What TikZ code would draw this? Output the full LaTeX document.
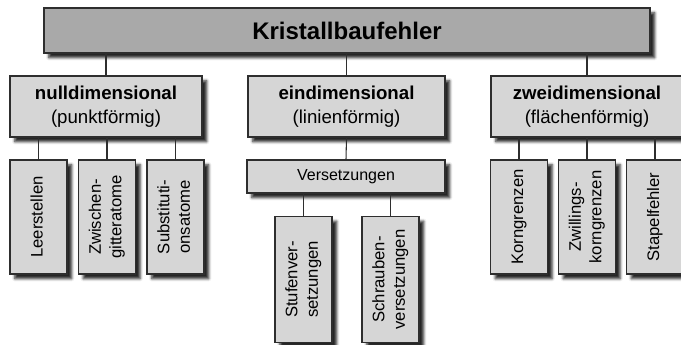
\documentclass[tikz,border=0pt]{standalone}
\usepackage{fontspec}
\setmainfont{Liberation Sans}
\usetikzlibrary{shadows.blur}
\definecolor{boxgray}{HTML}{D6D6D6}
\definecolor{topgray}{HTML}{A9A9A9}
\definecolor{edgegray}{HTML}{2E2E2E}
\newcommand{\vlabel}[1]{\rotatebox{90}{\begin{tabular}{@{}c@{}}#1\end{tabular}}}

\begin{document}
\begin{tikzpicture}[x=0.75pt,y=-0.75pt,
  box/.style={draw=edgegray, line width=0.8pt, fill=boxgray, inner sep=0pt,
    blur shadow={shadow xshift=3.5pt, shadow yshift=-3.5pt, shadow blur radius=2pt, shadow opacity=85}},
  mainbox/.style={box, fill=topgray, minimum width=454.5pt, minimum height=33.75pt, font=\fontsize{18}{22}\selectfont\bfseries},
  classbox/.style={box, minimum height=45.75pt, align=center, font=\fontsize{14}{18}\selectfont},
  leafbox/.style={box, minimum width=42.75pt, minimum height=85.5pt, font=\fontsize{12.5}{15.5}\selectfont},
  link/.style={draw=edgegray, line width=0.8pt}]

\useasboundingbox (0,0) rectangle (681,344);

\node[mainbox] (kbf) at (347,30.5) {Kristallbaufehler};

\node[classbox, minimum width=144pt] (null) at (106,106.5) {\textbf{nulldimensional}\\(punktförmig)};
\node[classbox, minimum width=147.75pt] (ein) at (346.5,106.5) {\textbf{eindimensional}\\(linienförmig)};
\node[classbox, minimum width=144pt] (zwei) at (587,106.5) {\textbf{zweidimensional}\\(flächenförmig)};

\node[leafbox] (leer) at (38.5,217) {\vlabel{Leerstellen}};
\node[leafbox] (zwgi) at (107,217) {\vlabel{Zwischen-\\gitteratome}};
\node[leafbox] (subs) at (175.5,217) {\vlabel{Substituti-\\onsatome}};

\node[box, minimum width=148.5pt, minimum height=24.75pt, font=\fontsize{12}{15}\selectfont] (vers) at (346,176.5) {Versetzungen};
\node[leafbox, minimum height=94.5pt] (stuf) at (303.5,279.5) {\vlabel{Stufenver-\\setzungen}};
\node[leafbox, minimum height=94.5pt] (schr) at (390.5,279.5) {\vlabel{Schrauben-\\versetzungen}};

\node[leafbox] (korn) at (519,217) {\vlabel{Korngrenzen}};
\node[leafbox] (zwil) at (587,217) {\vlabel{Zwillings-\\korngrenzen}};
\node[leafbox] (stap) at (655,217) {\vlabel{Stapelfehler}};

\foreach \n in {null,ein,zwei}
  \draw[link] (\n.north) -- (\n.north |- kbf.south);
\foreach \n in {leer,zwgi,subs}
  \draw[link] (\n.north) -- (\n.north |- null.south);
\foreach \n in {korn,zwil,stap}
  \draw[link] (\n.north) -- (\n.north |- zwei.south);
\draw[link] (vers.north) -- (ein.south);
\foreach \n in {stuf,schr}
  \draw[link] (\n.north) -- (\n.north |- vers.south);

\end{tikzpicture}
\end{document}
